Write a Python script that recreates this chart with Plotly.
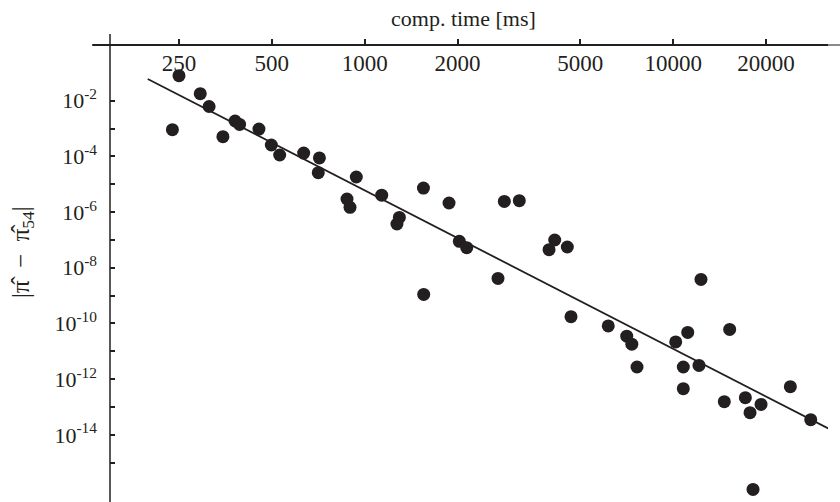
import plotly.graph_objects as go

# ---- data ----
time_ms = [250, 238, 293, 313, 347, 380, 393, 454, 498, 530, 634, 713, 707, 939,
           876, 896, 1135, 1295, 1272, 1550, 1876, 2835, 3170, 2026, 2141, 1553,
           2704, 4129, 3958, 4536, 4663, 6157, 7068, 7341, 7632, 12303, 10186,
           11143, 10782, 12120, 10782, 15240, 14640, 17130, 17740, 19260, 23970,
           27910, 18140]
error = [7.9e-2, 9.1e-4, 1.78e-2, 6.2e-3, 5.1e-4, 1.87e-3, 1.41e-3, 9.6e-4,
         2.57e-4, 1.12e-4, 1.32e-4, 8.8e-5, 2.6e-5, 1.82e-5, 2.95e-6, 1.48e-6,
         4.05e-6, 6.45e-7, 3.74e-7, 7.3e-6, 2.12e-6, 2.42e-6, 2.57e-6, 8.9e-8,
         5.27e-8, 1.11e-9, 4.16e-9, 9.96e-8, 4.47e-8, 5.58e-8, 1.75e-10, 8.2e-11,
         3.5e-11, 1.81e-11, 2.74e-12, 3.83e-9, 2.17e-11, 4.79e-11, 2.74e-12,
         3.13e-12, 4.56e-13, 6.14e-11, 1.56e-13, 2.17e-13, 6.27e-14, 1.24e-13,
         5.38e-13, 3.52e-14, 1.1e-16]

fit_time = [198, 31800]
fit_error = [6.01e-2, 1.71e-14]

x_tick_vals = [250, 500, 1000, 2000, 5000, 10000, 20000]
x_tick_text = ["250", "500", "1000", "2000", "5000", "10000", "20000"]
y_major_exponents = [-2, -4, -6, -8, -10, -12, -14]
y_minor_exponents = [-3, -5, -7, -9, -11, -13, -15]
y_tick_vals = [10.0 ** e for e in y_major_exponents]
y_tick_text = [f"10<sup>-{abs(e)}</sup>" for e in y_major_exponents]
y_minor_vals = [10.0 ** e for e in y_minor_exponents]

INK = "#231f20"
FONT = "Liberation Serif, Times New Roman, serif"

fig = go.Figure()
fig.add_trace(go.Scatter(x=fit_time, y=fit_error, mode="lines",
                         line=dict(color=INK, width=1.8), hoverinfo="skip"))
fig.add_trace(go.Scatter(x=time_ms, y=error, mode="markers",
                         marker=dict(color=INK, size=13, line=dict(width=0))))

fig.update_layout(
    width=840, height=502,
    margin=dict(l=110, r=12, t=45, b=0, pad=0),
    paper_bgcolor="white", plot_bgcolor="white",
    showlegend=False,
    font=dict(family=FONT, size=22, color=INK),
    xaxis=dict(type="log", range=[2.1743, 4.5017], side="top",
               tickmode="array", tickvals=x_tick_vals, ticktext=x_tick_text,
               ticks="outside", ticklen=5, tickwidth=1.5, tickcolor=INK,
               ticklabelposition="inside", ticklabelstandoff=7,
               showgrid=False, zeroline=False, showline=False,
               tickfont=dict(family=FONT, size=23, color=INK)),
    yaxis=dict(type="log", range=[-16.41, 0],
               tickmode="array", tickvals=y_tick_vals, ticktext=y_tick_text,
               ticks="inside", ticklen=5, tickwidth=1.5, tickcolor=INK,
               ticklabelstandoff=12,
               minor=dict(tickmode="array", tickvals=y_minor_vals, ticks="inside",
                          ticklen=5, tickwidth=1.5, tickcolor=INK, showgrid=False),
               showgrid=False, zeroline=False, showline=False,
               tickfont=dict(family=FONT, size=22, color=INK)),
)

# axis lines (crossing, slightly overshooting like the reference)
fig.add_shape(type="line", xref="paper", yref="paper", x0=-0.0248, x1=1.0, y0=1, y1=1,
              line=dict(color=INK, width=2))
fig.add_shape(type="line", xref="paper", yref="paper", x0=1.0, x1=1.0167, y0=1, y1=1,
              line=dict(color="#8a8a8a", width=2))
fig.add_shape(type="line", xref="paper", yref="paper", x0=0, x1=0, y0=0, y1=1.024,
              line=dict(color=INK, width=1.5))

fig.add_annotation(text="comp. time [ms]", xref="paper", yref="paper",
                   x=0.492, y=1.059, xanchor="center", yanchor="middle",
                   showarrow=False, font=dict(family=FONT, size=22, color=INK))
fig.add_annotation(text="|π\u0302  −  π\u0302<sub>54</sub>|", xref="paper", yref="paper",
                   x=-0.1218, y=0.546, xanchor="center", yanchor="middle",
                   textangle=-90, showarrow=False,
                   font=dict(family=FONT, size=25, color=INK))

fig.write_html("out.html")
